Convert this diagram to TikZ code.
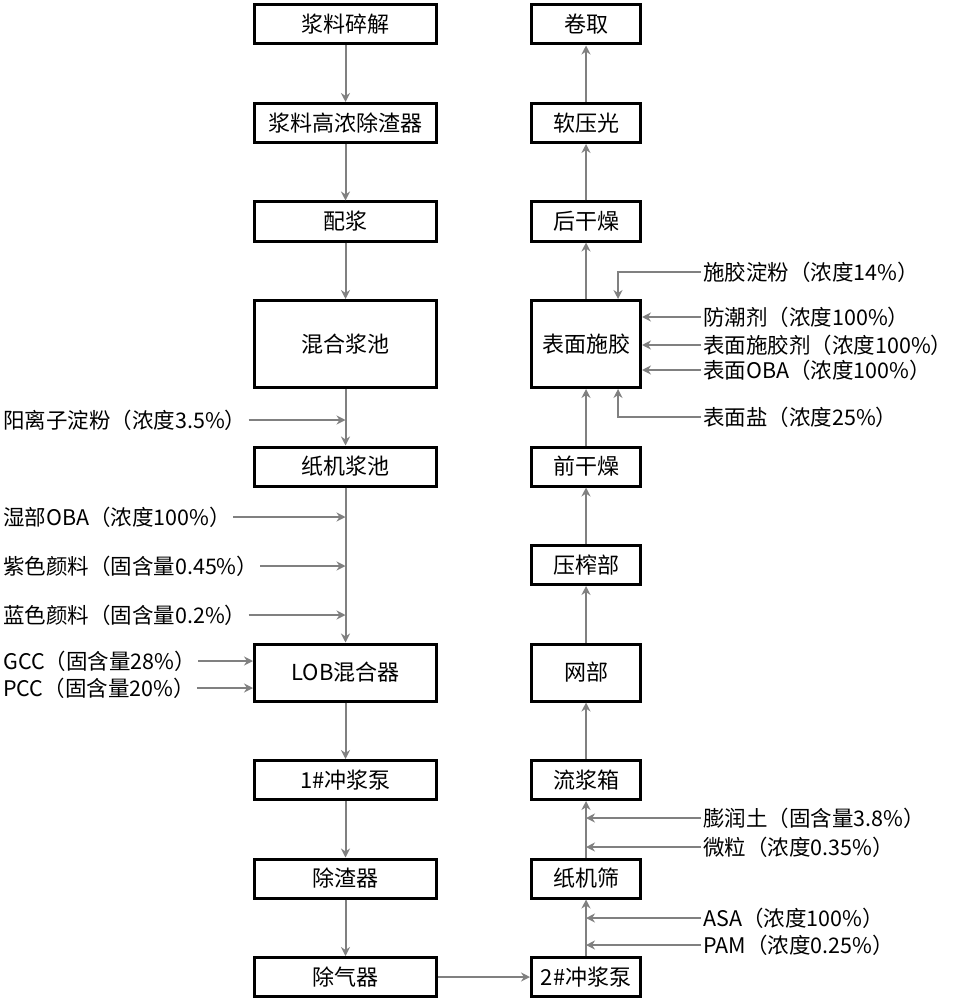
\documentclass[tikz,border=0pt]{standalone}
\usepackage{fontspec}
\setmainfont{Noto Sans CJK SC}
\usetikzlibrary{positioning, arrows.meta}
\definecolor{flowgray}{RGB}{128, 128, 128}

\begin{document}
\begin{tikzpicture}[x=1pt, y=-1pt,
      procbox/.style={draw=black, line width=3pt, fill=white, minimum width=#1, minimum height=39pt, inner sep=0pt, font=\fontsize{22}{26}\selectfont},
      procbox/.default=182pt,
      flow/.style={-{Stealth[length=9pt, width=9pt]}, line width=2pt, flowgray},
      addin/.style={inner sep=2pt, font=\fontsize{21.5}{25}\selectfont},
      node distance=56.5pt
    ]
      \useasboundingbox (0,0) rectangle (954,1000);

      \node [procbox] (L1) at (345.5,24.5) {浆料碎解};
      \node [procbox, below=of L1] (L2) {浆料高浓除渣器};
      \node [procbox, below=of L2] (L3) {配浆};
      \node [procbox, minimum height=87pt, below=of L3] (L4) {混合浆池};
      \node [procbox, below=of L4] (L5) {纸机浆池};
      \node [procbox, minimum height=57pt, below=155pt of L5] (L6) {LOB混合器};
      \node [procbox, below=of L6] (L7) {1\#冲浆泵};
      \node [procbox, below=of L7] (L8) {除渣器};
      \node [procbox, below=of L8] (L9) {除气器};

      \node [procbox=109pt] (R1) at (586,24.5) {卷取};
      \node [procbox=109pt, below=of R1] (R2) {软压光};
      \node [procbox=109pt, below=of R2] (R3) {后干燥};
      \node [procbox=109pt, minimum height=87pt, below=of R3] (R4) {表面施胶};
      \node [procbox=109pt, below=of R4] (R5) {前干燥};
      \node [procbox=109pt, below=of R5] (R6) {压榨部};
      \node [procbox=109pt, minimum height=57pt, below=of R6] (R7) {网部};
      \node [procbox=109pt, below=of R7] (R8) {流浆箱};
      \node [procbox=109pt, below=of R8] (R9) {纸机筛};
      \node [procbox=109pt, below=of R9] (R10) {2\#冲浆泵};

      \node [addin, anchor=west] (A1) at (1,420) {阳离子淀粉（浓度3.5\%）};
      \node [addin, anchor=west] (A2) at (1,517) {湿部OBA（浓度100\%）};
      \node [addin, anchor=west] (A3) at (1,566) {紫色颜料（固含量0.45\%）};
      \node [addin, anchor=west] (A4) at (1,615) {蓝色颜料（固含量0.2\%）};
      \node [addin, anchor=west] (A5) at (1,661) {GCC（固含量28\%）};
      \node [addin, anchor=west] (A6) at (1,688) {PCC（固含量20\%）};

      \node [addin, anchor=west] (B1) at (701,272) {施胶淀粉（浓度14\%）};
      \node [addin, anchor=west] (B2) at (701,317) {防潮剂（浓度100\%）};
      \node [addin, anchor=west] (B3) at (701,345) {表面施胶剂（浓度100\%）};
      \node [addin, anchor=west] (B4) at (701,370) {表面OBA（浓度100\%）};
      \node [addin, anchor=west] (B5) at (701,417) {表面盐（浓度25\%）};
      \node [addin, anchor=west] (B6) at (701,818) {膨润土（固含量3.8\%）};
      \node [addin, anchor=west] (B7) at (701,847) {微粒（浓度0.35\%）};
      \node [addin, anchor=west] (B8) at (701,918) {ASA（浓度100\%）};
      \node [addin, anchor=west] (B9) at (701,945) {PAM（浓度0.25\%）};

      \draw [flow] (L1) -- (L2);
      \draw [flow] (L2) -- (L3);
      \draw [flow] (L3) -- (L4);
      \draw [flow] (L4) -- (L5);
      \draw [flow] (L5) -- (L6);
      \draw [flow] (L6) -- (L7);
      \draw [flow] (L7) -- (L8);
      \draw [flow] (L8) -- (L9);
      \draw [flow] (L9) -- (R10);
      \draw [flow] (R10) -- (R9);
      \draw [flow] (R9) -- (R8);
      \draw [flow] (R8) -- (R7);
      \draw [flow] (R7) -- (R6);
      \draw [flow] (R6) -- (R5);
      \draw [flow] (R5) -- (R4);
      \draw [flow] (R4) -- (R3);
      \draw [flow] (R3) -- (R2);
      \draw [flow] (R2) -- (R1);

      \draw [flow] (A1) -- (A1 -| L4);
      \draw [flow] (A2) -- (A2 -| L5);
      \draw [flow] (A3) -- (A3 -| L5);
      \draw [flow] (A4) -- (A4 -| L5);
      \draw [flow] (A5) -- (A5 -| L6.west);
      \draw [flow] (A6) -- (A6 -| L6.west);

      \draw [flow] (B1.west) -| ([xshift=32pt]R4.north);
      \draw [flow] (B2) -- (B2 -| R4.east);
      \draw [flow] (B3) -- (B3 -| R4.east);
      \draw [flow] (B4) -- (B4 -| R4.east);
      \draw [flow] (B5.west) -| ([xshift=32pt]R4.south);
      \draw [flow] (B6) -- (B6 -| R8);
      \draw [flow] (B7) -- (B7 -| R8);
      \draw [flow] (B8) -- (B8 -| R9);
      \draw [flow] (B9) -- (B9 -| R9);
    \end{tikzpicture}
\end{document}
